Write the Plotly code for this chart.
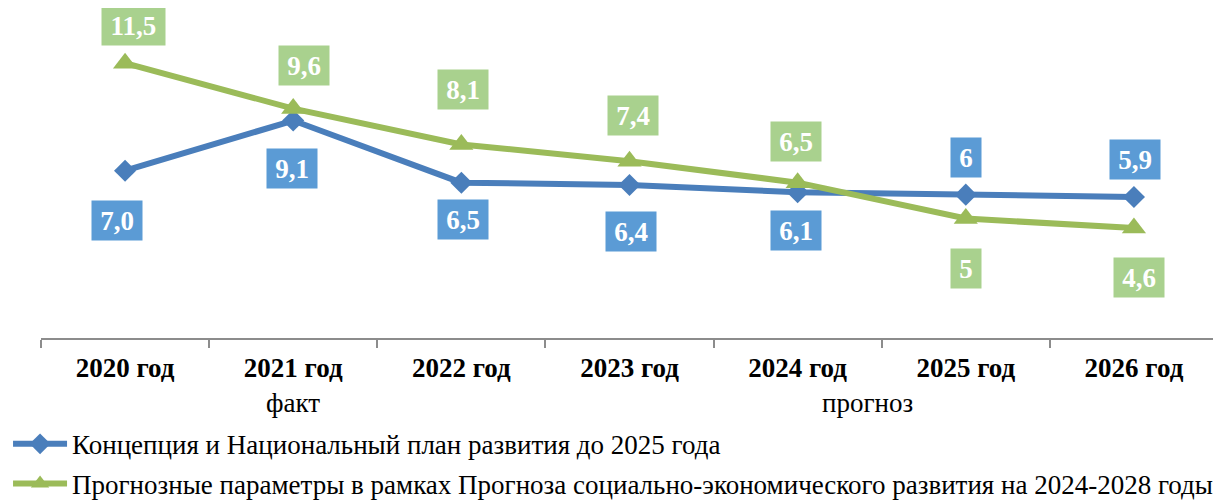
import plotly.graph_objects as go

categories = ["2020 год", "2021 год", "2022 год", "2023 год", "2024 год", "2025 год", "2026 год"]
concept_values = [7.0, 9.1, 6.5, 6.4, 6.1, 6.0, 5.9]
concept_labels = ["7,0", "9,1", "6,5", "6,4", "6,1", "6", "5,9"]
forecast_values = [11.5, 9.6, 8.1, 7.4, 6.5, 5.0, 4.6]
forecast_labels = ["11,5", "9,6", "8,1", "7,4", "6,5", "5", "4,6"]
series_names = [
    "Концепция и Национальный план развития до 2025 года",
    "Прогнозные параметры в рамках Прогноза социально-экономического развития на 2024-2028 годы",
]

# label offsets in pixels (dx, dy) relative to each point; positive dy = up
concept_offsets = [(-8, -50), (-1, -48), (2, -37), (1, -46), (-2, -38), (0, 37), (1, 38)]
forecast_offsets = [(8, 38), (11, 43), (2, 55), (3, 46), (-2, 41), (0, -50), (5, -49)]

BLUE_LINE = "#4a7ebb"
GREEN_LINE = "#9bbb59"
BLUE_BOX = "#5b9bd5"
GREEN_BOX = "#a9d18e"
FONT = "Liberation Serif"

fig = go.Figure()
fig.add_trace(go.Scatter(
    x=categories, y=concept_values, mode="lines+markers", name=series_names[0],
    line=dict(color=BLUE_LINE, width=6),
    marker=dict(symbol="diamond", size=17, color=BLUE_LINE),
    legend="legend", cliponaxis=False,
))
fig.add_trace(go.Scatter(
    x=categories, y=forecast_values, mode="lines+markers", name=series_names[1],
    line=dict(color=GREEN_LINE, width=6),
    marker=dict(symbol="triangle-up", size=21, color=GREEN_LINE),
    legend="legend2", cliponaxis=False,
))

box_w = {1: 30, 3: 50, 4: 63}
box_h = 39
pad = 4


def add_labels(values, labels, offsets, color):
    for cat, v, lab, (dx, dy) in zip(categories, values, labels, offsets):
        fig.add_annotation(
            x=cat, y=v, xref="x", yref="y", text=lab, showarrow=False,
            xshift=dx, yshift=dy,
            width=box_w[len(lab)] - 2 * pad, height=box_h - 2 * pad,
            borderpad=pad, bgcolor=color, align="center", valign="middle",
            font=dict(family=FONT, size=27, color="white", weight="bold"),
        )


add_labels(concept_values, concept_labels, concept_offsets, BLUE_BOX)
add_labels(forecast_values, forecast_labels, forecast_offsets, GREEN_BOX)

fig.add_annotation(x=1, y=-0.197, xref="x", yref="paper", text="факт", showarrow=False,
                   yanchor="middle", font=dict(family=FONT, size=27, color="black"))
fig.add_annotation(x=4.413, y=-0.197, xref="x", yref="paper", text="прогноз", showarrow=False,
                   yanchor="middle", font=dict(family=FONT, size=27, color="black"))

legend_common = dict(
    orientation="v", xanchor="left", yanchor="middle", bgcolor="rgba(0,0,0,0)",
    itemwidth=54, font=dict(family=FONT, size=27, color="black"),
)
fig.update_layout(
    width=1213, height=493,
    margin=dict(l=33, r=3, t=0, b=163, autoexpand=False),
    paper_bgcolor="white", plot_bgcolor="white",
    showlegend=True,
    legend=dict(x=-0.028, y=-0.322, **legend_common),
    legend2=dict(x=-0.028, y=-0.4424, **legend_common),
    xaxis=dict(
        type="category", range=[-0.5, 6.5], showgrid=False, zeroline=False,
        showline=True, linecolor="#8c8c8c", linewidth=2,
        ticks="outside", ticklen=8, tickwidth=2, tickcolor="#8c8c8c", tickson="boundaries",
        tickfont=dict(family=FONT, size=27, color="black", weight="bold"),
        ticklabelstandoff=5,
    ),
    yaxis=dict(range=[0, 13.81], visible=False, showgrid=False, zeroline=False),
)

fig.write_html("out.html")
